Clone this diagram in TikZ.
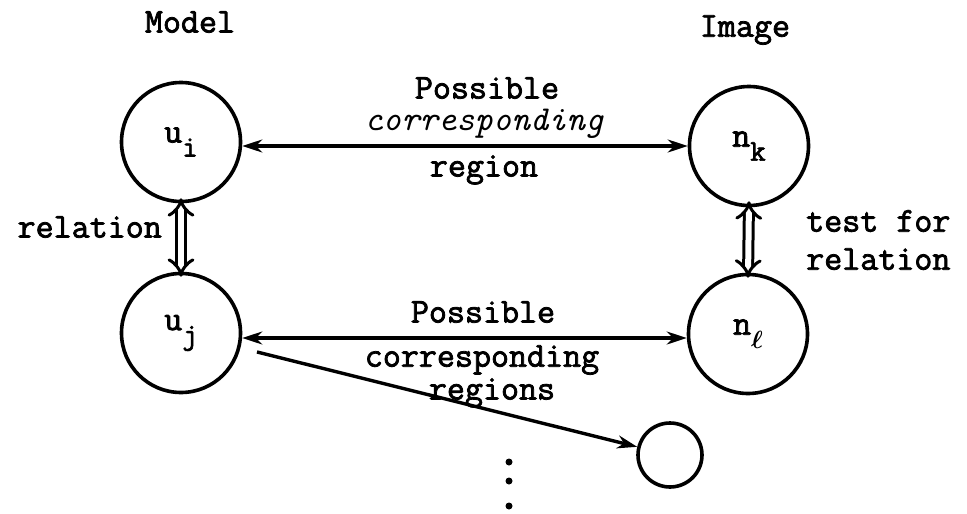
\documentclass[tikz,border=0pt]{standalone}
\usepackage{fontspec}
\setmainfont{Latin Modern Mono}[AutoFakeBold=2.2]
\usetikzlibrary{arrows.meta}
\newcommand{\sbs}[1]{\raisebox{-0.4em}{\fontsize{30}{32}\selectfont #1}}
\tikzset{
  every node/.style={font=\fontsize{35}{38}\selectfont\bfseries, inner sep=0pt},
  region/.style={circle, draw, line width=3.6pt, minimum size=119pt},
  small/.style={circle, draw, line width=3.6pt, minimum size=64pt},
  corr/.style={line width=3.4pt, {Stealth[length=20pt,width=13pt]}-{Stealth[length=20pt,width=13pt]}},
  oneway/.style={line width=3.4pt, -{Stealth[length=20pt,width=13pt]}},
  rel/.style={double, double distance=6pt, line width=3pt, {Implies[length=7pt]}-{Implies[length=7pt]}},
  dot/.style={circle, fill, minimum size=7pt}
}
\begin{document}
\begin{tikzpicture}[x=1pt,y=-1pt]
\useasboundingbox (0,0) rectangle (967,514);
\node (model) at (190,22) {Model};
\node (image) at (745,30) {Image};
\node[region] (ui) at (181,142) {u\sbs{i}};
\node[region] (nk) at (749,146) {n\sbs{k}};
\node[region] (uj) at (181,333) {u\sbs{j}};
\node[region] (nl) at (748,334) {n\sbs{\boldmath$\ell$}};
\node[small] (extra) at (670,455) {};
\draw[corr] (ui.east |- 0,146) coordinate (a1) -- (nk.west |- 0,146) coordinate (a2);
\draw[corr] (uj.east |- 0,338) coordinate (b1) -- (nl.west |- 0,338) coordinate (b2);
\draw[oneway, shorten <=17pt] (uj) -- (extra);
\draw[rel] ([yshift=5pt]ui.south) coordinate (r1) -- ([yshift=-5pt]uj.north) coordinate (r2);
\draw[rel] ([yshift=6pt]nk.south) coordinate (r3) -- ([yshift=-5pt]nl.north) coordinate (r4);
\node (p1) at (487,88) {Possible};
\node (c1) at (484,124) {\itshape corresponding};
\node (g1) at (484,170) {region};
\node (p2) at (483,312) {Possible};
\node (c2) at (482,360) {corresponding};
\node (g2) at (492,393) {regions};
\node[anchor=east] (relL) at (162,227) {relation};
\node[anchor=west, align=left] (relR) at (806,240) {test for\\relation};
\node[dot] (d1) at (509,462) {};
\node[dot] (d2) at (509,481) {};
\node[dot] (d3) at (509,506) {};
\end{tikzpicture}
\end{document}
